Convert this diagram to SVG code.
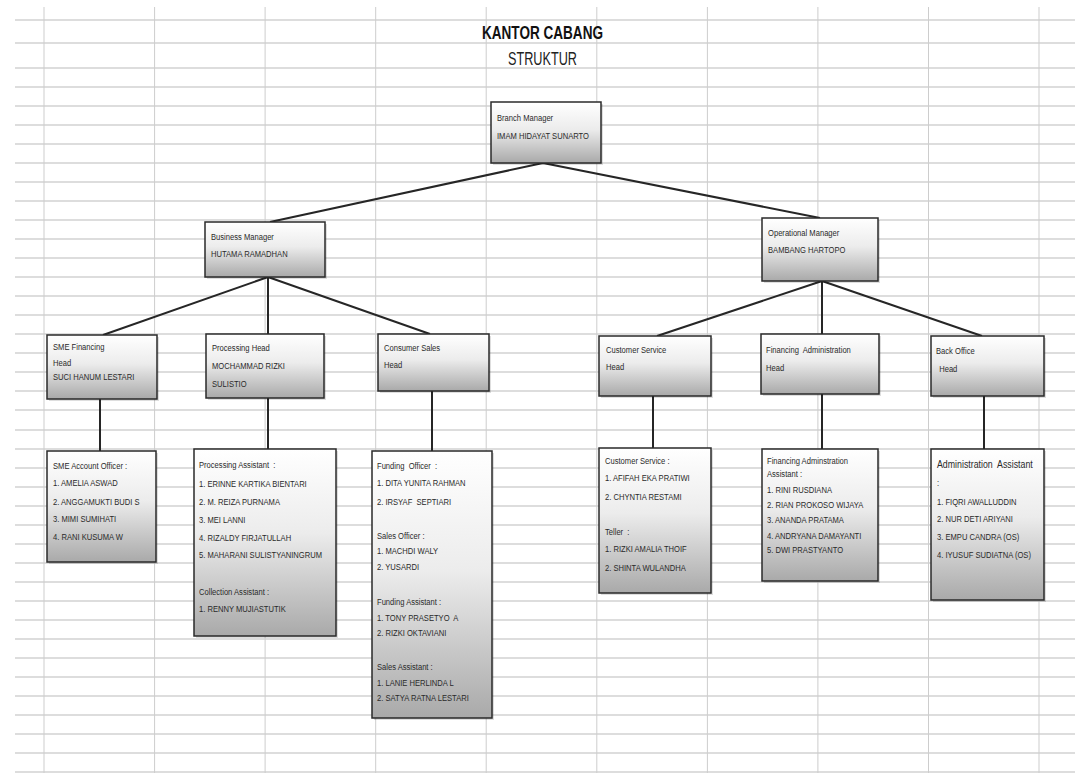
<svg xmlns="http://www.w3.org/2000/svg" width="1083" height="773" viewBox="0 0 1083 773">
<defs>
<linearGradient id="g" x1="0" y1="0" x2="0" y2="1">
<stop offset="0" stop-color="#ffffff"/>
<stop offset="0.45" stop-color="#ececec"/>
<stop offset="1" stop-color="#a9a9a9"/>
</linearGradient>
<style>
.bg{fill:#fff}
.hg{stroke:#d2d2d2;stroke-width:1.6;fill:none}
.vg{stroke:#cdcdcd;stroke-width:1;fill:none}
.box{fill:url(#g);stroke:#2a2a2a;stroke-width:1.5}
.sh{fill:#000;opacity:0.13}
.con{stroke:#262626;stroke-width:2;fill:none}
.t{font-family:"Liberation Sans",Arial,sans-serif;font-size:9.5px;fill:#2a2a2a}
.t2{font-family:"Liberation Sans",Arial,sans-serif;font-size:11px;fill:#2a2a2a}
.title{font-family:"Liberation Sans",Arial,sans-serif;font-weight:bold;font-size:18px;fill:#111}
.sub{font-family:"Liberation Sans",Arial,sans-serif;font-size:19px;fill:#222}
</style>
</defs>
<rect class="bg" x="0" y="0" width="1083" height="773"/>
<g id="grid">
<path class="hg" d="M15,20H1075M15,43H1075M15,68H1075M15,87H1075M15,106H1075M15,125H1075M15,144H1075M15,163H1075M15,182H1075M15,201H1075M15,220H1075M15,239H1075M15,258H1075M15,277H1075M15,296H1075M15,315H1075M15,334H1075M15,353H1075M15,372H1075M15,391H1075M15,410H1075M15,430H1075M15,449H1075M15,468H1075M15,487H1075M15,506H1075M15,525H1075M15,544H1075M15,563H1075M15,582H1075M15,601H1075M15,620H1075M15,639H1075M15,658H1075M15,677H1075M15,696H1075M15,715H1075M15,734H1075M15,753H1075M15,772H1075"/>
<path class="vg" d="M44,7V773M154.6,7V773M265.1,7V773M375.7,7V773M486.2,7V773M596.8,7V773M707.4,7V773M817.9,7V773M928.5,7V773M1039,7V773"/>
</g>
<g id="title">
<text class="title" x="542.5" y="39" text-anchor="middle" textLength="121" lengthAdjust="spacingAndGlyphs">KANTOR CABANG</text>
<text class="sub" x="542.5" y="65" text-anchor="middle" textLength="69" lengthAdjust="spacingAndGlyphs">STRUKTUR</text>
</g>
<g id="connectors">
<path class="con" d="M543,163L270,222M543,163L820,218M268,277L268,334M268,277L103,335M268,277L430,334M822,281L822,334M822,281L657,336M822,281L982,336M100,399V451M268,398V449M432,391V451M653,396V448M822,394V449M984,396V449"/>
</g>
<g id="branch-manager">
<rect class="sh" x="493" y="104" width="110" height="61"/>
<rect class="box" x="491" y="102" width="110" height="61"/>
<g transform="translate(497,0) scale(0.8,1)">
<text class="t" x="0" y="121">Branch Manager</text>
<text class="t" x="0" y="139">IMAM HIDAYAT SUNARTO</text>
</g>
</g>
<g id="business-manager">
<rect class="sh" x="207" y="224" width="120" height="55"/>
<rect class="box" x="205" y="222" width="120" height="55"/>
<g transform="translate(211,0) scale(0.8,1)">
<text class="t" x="0" y="240.5">Business Manager</text>
<text class="t" x="0" y="257.5">HUTAMA RAMADHAN</text>
</g>
</g>
<g id="operational-manager">
<rect class="sh" x="764" y="220" width="116" height="63"/>
<rect class="box" x="762" y="218" width="116" height="63"/>
<g transform="translate(768,0) scale(0.8,1)">
<text class="t" x="0" y="236.5">Operational Manager</text>
<text class="t" x="0" y="253.5">BAMBANG HARTOPO</text>
</g>
</g>
<g id="sme-financing-head">
<rect class="sh" x="49" y="337" width="110" height="64"/>
<rect class="box" x="47" y="335" width="110" height="64"/>
<g transform="translate(53,0) scale(0.8,1)">
<text class="t" x="0" y="350.5">SME Financing</text>
<text class="t" x="0" y="366.5">Head</text>
<text class="t" x="0" y="380.5">SUCI HANUM LESTARI</text>
</g>
</g>
<g id="processing-head">
<rect class="sh" x="208" y="336" width="118" height="64"/>
<rect class="box" x="206" y="334" width="118" height="64"/>
<g transform="translate(212,0) scale(0.8,1)">
<text class="t" x="0" y="351.5">Processing Head</text>
<text class="t" x="0" y="369.5">MOCHAMMAD RIZKI</text>
<text class="t" x="0" y="387.5">SULISTIO</text>
</g>
</g>
<g id="consumer-sales-head">
<rect class="sh" x="380" y="336" width="111" height="57"/>
<rect class="box" x="378" y="334" width="111" height="57"/>
<g transform="translate(384,0) scale(0.8,1)">
<text class="t" x="0" y="351.5">Consumer Sales</text>
<text class="t" x="0" y="368.5">Head</text>
</g>
</g>
<g id="customer-service-head">
<rect class="sh" x="601" y="338" width="112" height="60"/>
<rect class="box" x="599" y="336" width="112" height="60"/>
<g transform="translate(606,0) scale(0.8,1)">
<text class="t" x="0" y="353.5">Customer Service</text>
<text class="t" x="0" y="370.5">Head</text>
</g>
</g>
<g id="financing-administration-head">
<rect class="sh" x="763" y="336" width="118" height="60"/>
<rect class="box" x="761" y="334" width="118" height="60"/>
<g transform="translate(766,0) scale(0.8,1)">
<text class="t" x="0" y="353.5" xml:space="preserve">Financing  Administration</text>
<text class="t" x="0" y="371.5">Head</text>
</g>
</g>
<g id="back-office-head">
<rect class="sh" x="933" y="338" width="113" height="60"/>
<rect class="box" x="931" y="336" width="113" height="60"/>
<g transform="translate(936,0) scale(0.8,1)">
<text class="t" x="0" y="354.5">Back Office</text>
<text class="t" x="4" y="372.5">Head</text>
</g>
</g>
<g id="sme-account-officer">
<rect class="sh" x="49" y="453" width="109" height="111"/>
<rect class="box" x="47" y="451" width="109" height="111"/>
<g transform="translate(53,0) scale(0.8,1)">
<text class="t" x="0" y="469.5">SME Account Officer :</text>
<text class="t" x="0" y="486.5">1. AMELIA ASWAD</text>
<text class="t" x="0" y="505.5">2. ANGGAMUKTI BUDI S</text>
<text class="t" x="0" y="522.5">3. MIMI SUMIHATI</text>
<text class="t" x="0" y="540.5">4. RANI KUSUMA W</text>
</g>
</g>
<g id="processing-assistant">
<rect class="sh" x="196" y="451" width="142" height="187"/>
<rect class="box" x="194" y="449" width="142" height="187"/>
<g transform="translate(199,0) scale(0.8,1)">
<text class="t" x="0" y="468.5" xml:space="preserve">Processing Assistant  :</text>
<text class="t" x="0" y="487.5">1. ERINNE KARTIKA BIENTARI</text>
<text class="t" x="0" y="505.5">2. M. REIZA PURNAMA</text>
<text class="t" x="0" y="523.5">3. MEI LANNI</text>
<text class="t" x="0" y="541.5">4. RIZALDY FIRJATULLAH</text>
<text class="t" x="0" y="558.5">5. MAHARANI SULISTYANINGRUM</text>
<text class="t" x="0" y="595.5">Collection Assistant :</text>
<text class="t" x="0" y="612.5">1. RENNY MUJIASTUTIK</text>
</g>
</g>
<g id="consumer-sales-staff">
<rect class="sh" x="374" y="453" width="120" height="267"/>
<rect class="box" x="372" y="451" width="120" height="267"/>
<g transform="translate(377,0) scale(0.8,1)">
<text class="t" x="0" y="469.5" xml:space="preserve">Funding  Officer  :</text>
<text class="t" x="0" y="486.5">1. DITA YUNITA RAHMAN</text>
<text class="t" x="0" y="505.5" xml:space="preserve">2. IRSYAF  SEPTIARI</text>
<text class="t" x="0" y="539.5">Sales Officer :</text>
<text class="t" x="0" y="554.5">1. MACHDI WALY</text>
<text class="t" x="0" y="570.5">2. YUSARDI</text>
<text class="t" x="0" y="605.5">Funding Assistant :</text>
<text class="t" x="0" y="621.5" xml:space="preserve">1. TONY PRASETYO  A</text>
<text class="t" x="0" y="636.5">2. RIZKI OKTAVIANI</text>
<text class="t" x="0" y="670.5">Sales Assistant :</text>
<text class="t" x="0" y="686.5">1. LANIE HERLINDA L</text>
<text class="t" x="0" y="701.5">2. SATYA RATNA LESTARI</text>
</g>
</g>
<g id="customer-service-staff">
<rect class="sh" x="601" y="450" width="112" height="145"/>
<rect class="box" x="599" y="448" width="112" height="145"/>
<g transform="translate(605,0) scale(0.8,1)">
<text class="t" x="0" y="464.5">Customer Service :</text>
<text class="t" x="0" y="481.5">1. AFIFAH EKA PRATIWI</text>
<text class="t" x="0" y="500.5">2. CHYNTIA RESTAMI</text>
<text class="t" x="0" y="535.5" xml:space="preserve">Teller  :</text>
<text class="t" x="0" y="552.5">1. RIZKI AMALIA THOIF</text>
<text class="t" x="0" y="571.5">2. SHINTA WULANDHA</text>
</g>
</g>
<g id="financing-administration-assistant">
<rect class="sh" x="764" y="451" width="116" height="132"/>
<rect class="box" x="762" y="449" width="116" height="132"/>
<g transform="translate(767,0) scale(0.8,1)">
<text class="t" x="0" y="464.5">Financing Adminstration</text>
<text class="t" x="0" y="477.5">Assistant :</text>
<text class="t" x="0" y="493.5">1. RINI RUSDIANA</text>
<text class="t" x="0" y="508.5">2. RIAN PROKOSO WIJAYA</text>
<text class="t" x="0" y="523.5">3. ANANDA PRATAMA</text>
<text class="t" x="0" y="539.5">4. ANDRYANA DAMAYANTI</text>
<text class="t" x="0" y="553.5">5. DWI PRASTYANTO</text>
</g>
</g>
<g id="administration-assistant">
<rect class="sh" x="933" y="451" width="113" height="151"/>
<rect class="box" x="931" y="449" width="113" height="151"/>
<g transform="translate(937,0) scale(0.8,1)">
<text class="t2" x="0" y="468" xml:space="preserve">Administration  Assistant</text>
<text class="t" x="0" y="486.5">:</text>
<text class="t" x="0" y="505.5">1. FIQRI AWALLUDDIN</text>
<text class="t" x="0" y="522.5">2. NUR DETI ARIYANI</text>
<text class="t" x="0" y="540.5">3. EMPU CANDRA (OS)</text>
<text class="t" x="0" y="558.5">4. IYUSUF SUDIATNA (OS)</text>
</g>
</g>
</svg>
